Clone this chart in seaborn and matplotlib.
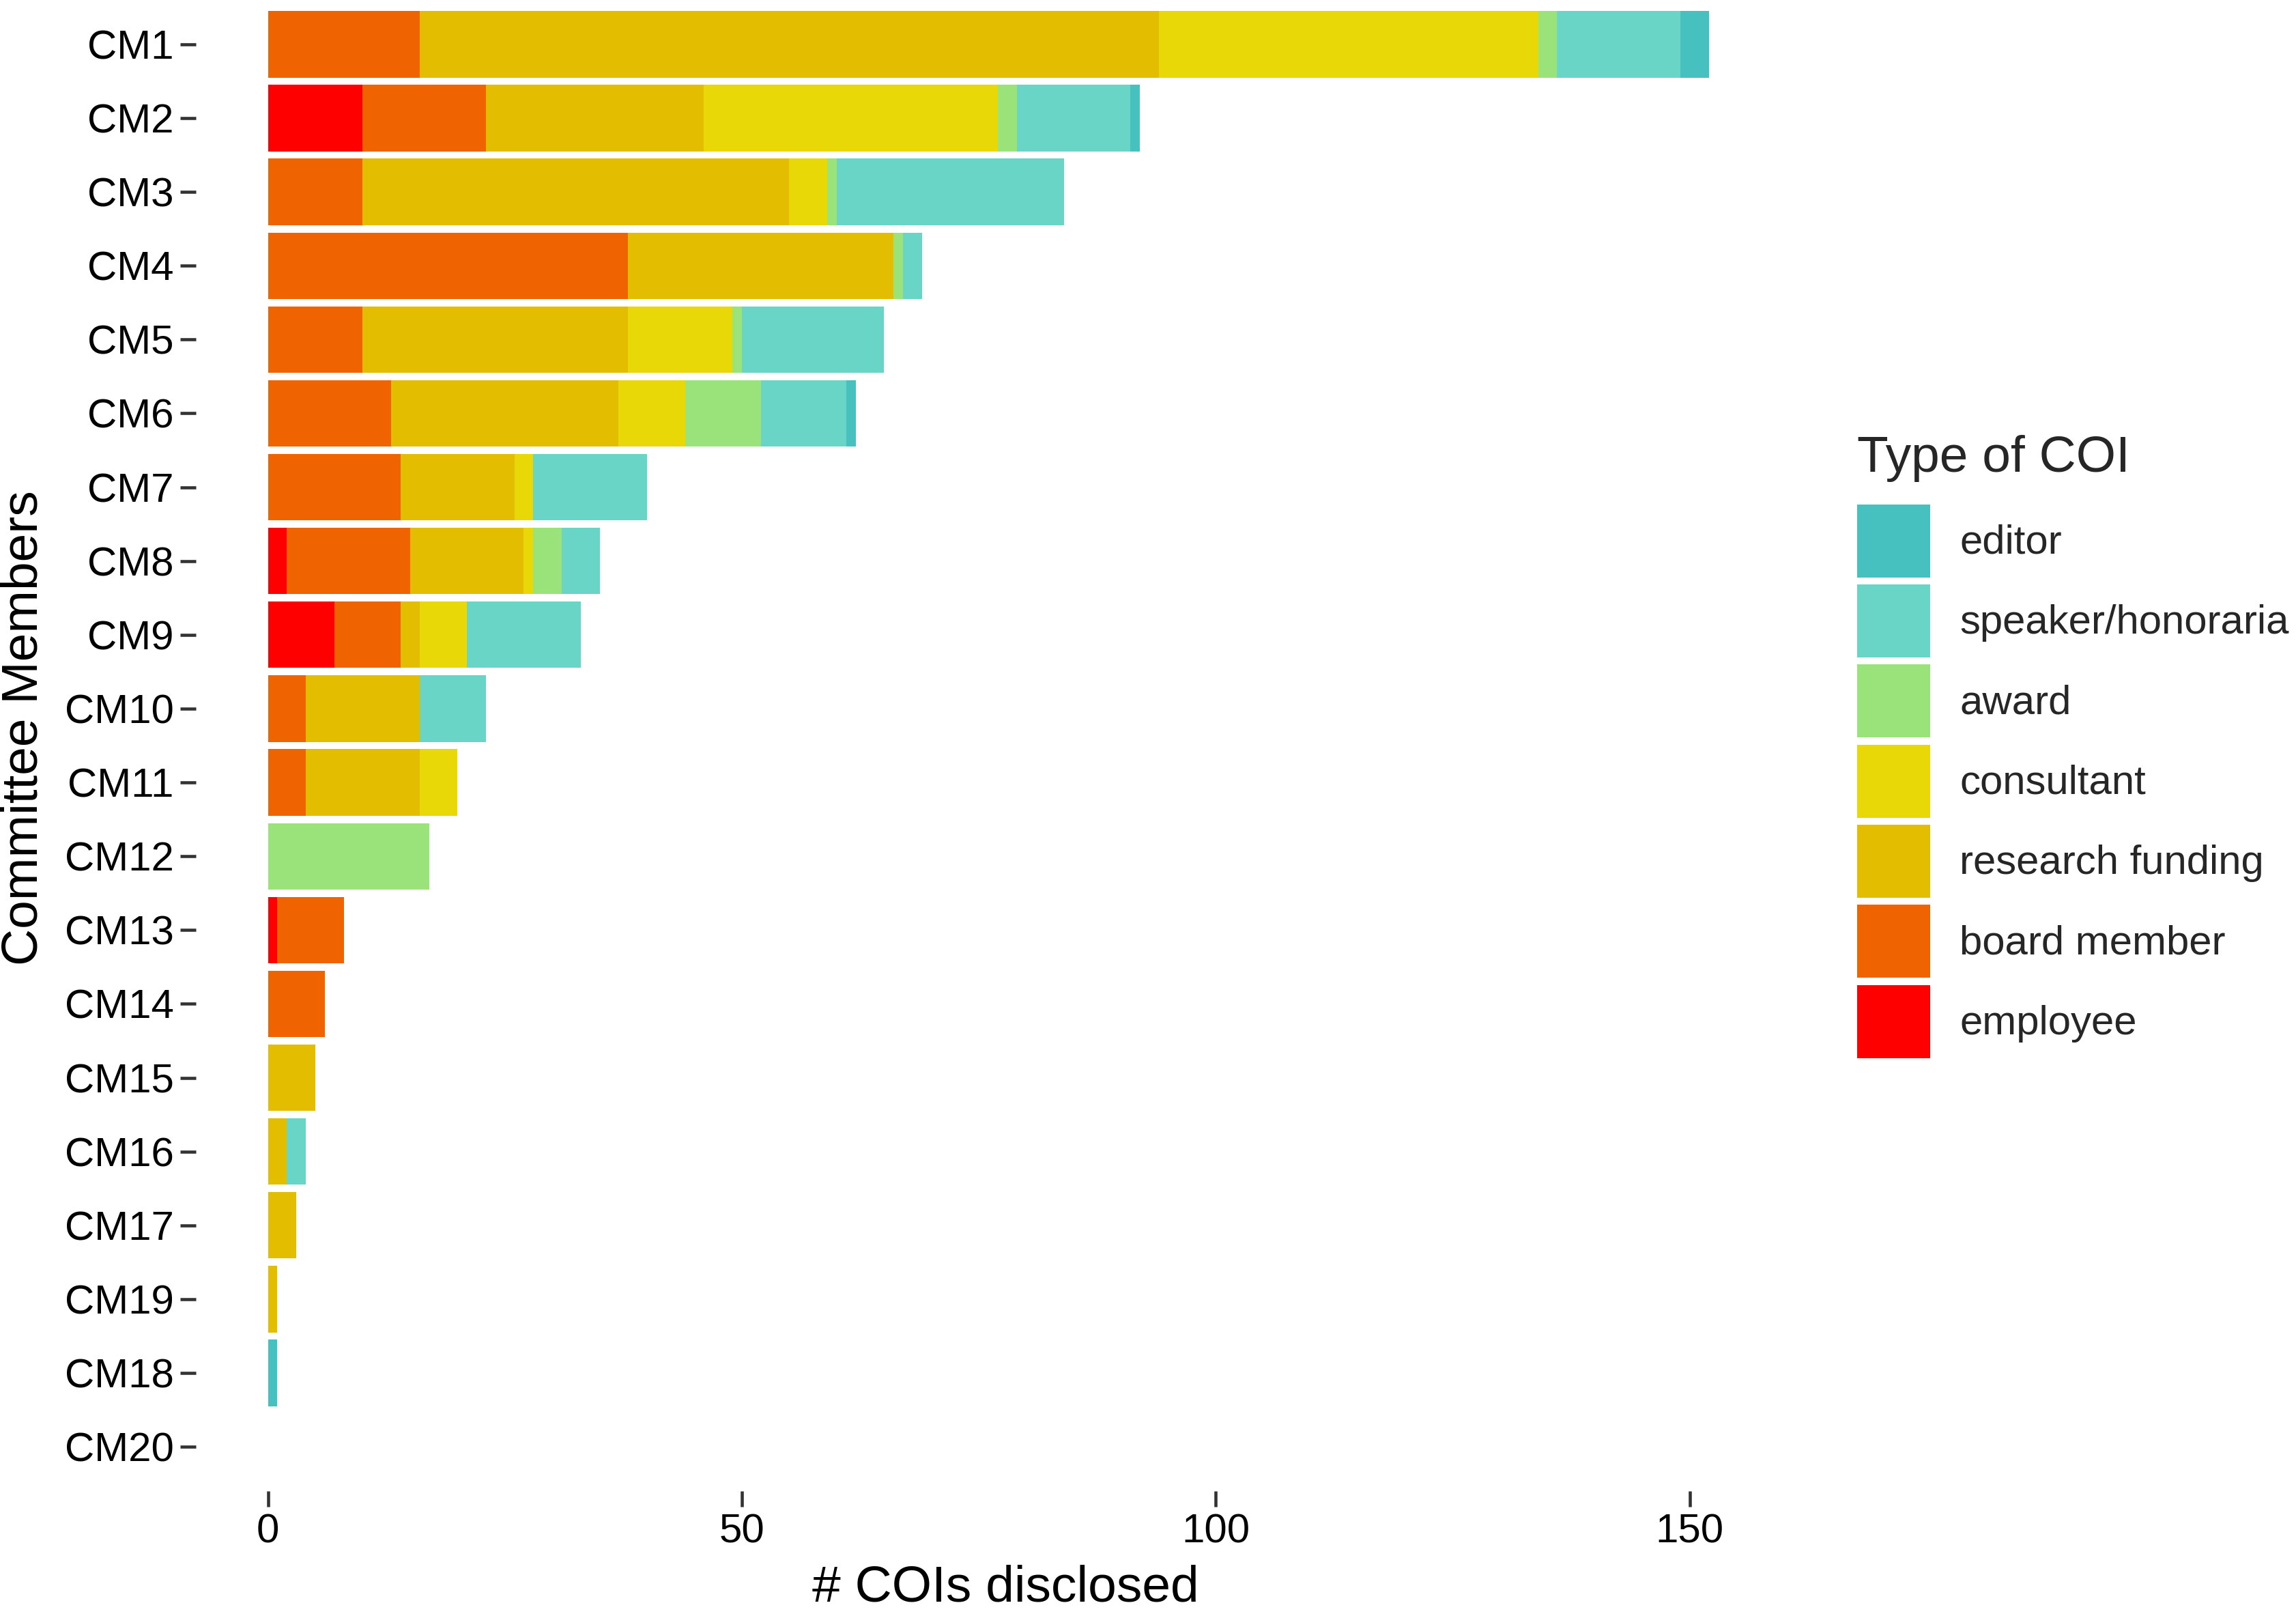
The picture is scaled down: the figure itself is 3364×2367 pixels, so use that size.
import matplotlib
matplotlib.use("Agg")
import matplotlib.pyplot as plt
import matplotlib.patches as mpatches
import numpy as np
import pandas as pd
import seaborn as sns

members = ["CM1", "CM2", "CM3", "CM4", "CM5", "CM6", "CM7", "CM8", "CM9", "CM10",
           "CM11", "CM12", "CM13", "CM14", "CM15", "CM16", "CM17", "CM19", "CM18", "CM20"]
employee   = [0, 10, 0, 0, 0, 0, 0, 2, 7, 0, 0, 0, 1, 0, 0, 0, 0, 0, 0, 0]
board      = [16, 13, 10, 38, 10, 13, 14, 13, 7, 4, 4, 0, 7, 6, 0, 0, 0, 0, 0, 0]
research   = [78, 23, 45, 28, 28, 24, 12, 12, 2, 12, 12, 0, 0, 0, 5, 2, 3, 1, 0, 0]
consultant = [40, 31, 4, 0, 11, 7, 2, 1, 5, 0, 4, 0, 0, 0, 0, 0, 0, 0, 0, 0]
award      = [2, 2, 1, 1, 1, 8, 0, 3, 0, 0, 0, 17, 0, 0, 0, 0, 0, 0, 0, 0]
speaker    = [13, 12, 24, 2, 15, 9, 12, 4, 12, 7, 0, 0, 0, 0, 0, 2, 0, 0, 0, 0]
editor     = [3, 1, 0, 0, 0, 1, 0, 0, 0, 0, 0, 0, 0, 0, 0, 0, 0, 0, 1, 0]

# stacking order left -> right
types = ["employee", "board member", "research funding", "consultant",
         "award", "speaker/honoraria", "editor"]
colors = {
    "employee": "#FF0000",
    "board member": "#F06400",
    "research funding": "#E3BE00",
    "consultant": "#E8D808",
    "award": "#9AE37A",
    "speaker/honoraria": "#69D5C6",
    "editor": "#47C1BF",
}
series = {
    "employee": employee, "board member": board, "research funding": research,
    "consultant": consultant, "award": award, "speaker/honoraria": speaker,
    "editor": editor,
}

df = pd.DataFrame({"member": members})
running = np.zeros(len(members))
for t in types:
    running = running + np.array(series[t], dtype=float)
    df["cum_" + t] = running.copy()

sns.set_theme(style="white")
plt.rcParams["font.family"] = ["Liberation Sans", "DejaVu Sans"]

fig = plt.figure(figsize=(3364 / 300, 2367 / 300), dpi=300)
ax = fig.add_axes([0.0853, 0.0773, 0.7756 - 0.0853, 1.0 - 0.0773])

# draw cumulative bars from the longest (rightmost type) down to the first
for t in reversed(types):
    sns.barplot(data=df, x="cum_" + t, y="member", order=members, orient="h",
                color=colors[t], saturation=1, width=0.9, errorbar=None,
                linewidth=0, ax=ax)

ax.set_xlim(-7.6, 159.6)
ax.set_ylim(len(members) - 0.4, -0.6)
ax.set_xticks([0, 50, 100, 150])
ax.set_xticklabels(["0", "50", "100", "150"])
for s in ax.spines.values():
    s.set_visible(False)
ax.grid(False)
ax.tick_params(axis="both", which="major", length=5.5, width=1.1, color="#333333",
               labelsize=14.4, labelcolor="black", pad=2.2, bottom=True, left=True)

ax.set_xlabel("# COIs disclosed", fontsize=18, color="black", labelpad=5, x=0.511)
ax.set_ylabel("Committee Members", fontsize=18, color="black", labelpad=6, y=0.512)

handles = [mpatches.Patch(facecolor=colors[t], edgecolor="none", linewidth=0, label=t)
           for t in reversed(types)]
leg = fig.legend(handles=handles, title="Type of COI", loc="center left",
                 bbox_to_anchor=(0.809, 0.538), frameon=False, fontsize=14.4,
                 title_fontsize=18, handlelength=1.78, handleheight=2.37,
                 labelspacing=0.17, handletextpad=0.72, borderaxespad=0,
                 borderpad=0)
leg._legend_box.align = "left"
leg._legend_box.sep = 7.7

fig.savefig("out.png", dpi=300, facecolor="white")
